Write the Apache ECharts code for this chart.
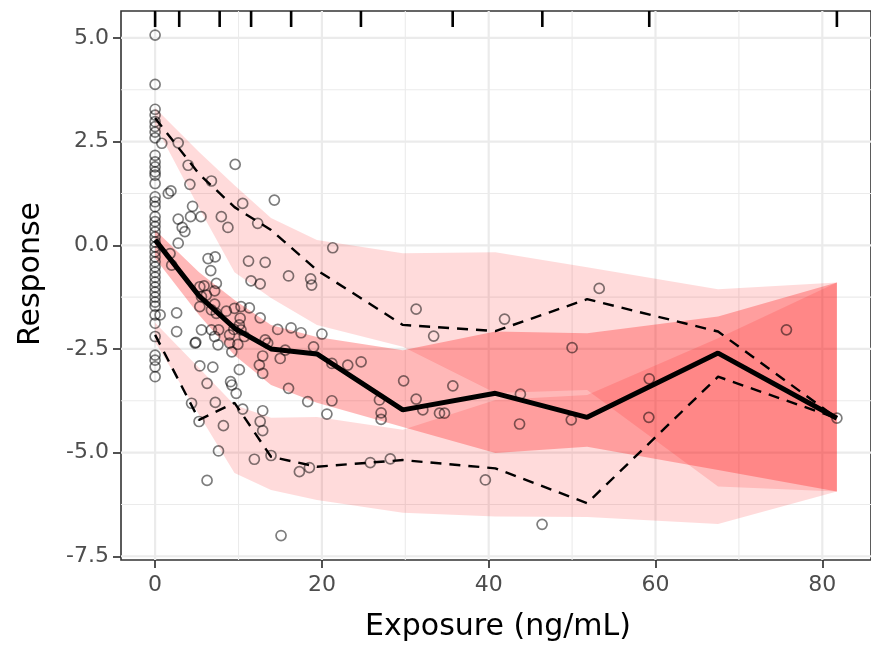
<!DOCTYPE html>
<html><head><meta charset="utf-8">
<script src="https://cdn.jsdelivr.net/npm/echarts@6/dist/echarts.min.js"></script>
<style>html,body{margin:0;padding:0;background:#fff}#c{width:871px;height:647px}</style>
</head><body><div id="c"></div>
<script>
// ---- data ----
const binX       = [0, 5.27, 9.52, 13.9, 19.4, 29.7, 40.8, 51.8, 67.5, 81.75];
const obsMedian  = [0.13, -1.22, -2.0, -2.5, -2.62, -3.97, -3.57, -4.15, -2.6, -4.17];
const obsUpper   = [3.07, 1.72, 0.92, 0.37, -0.6, -1.92, -2.07, -1.3, -2.08, -4.17];
const obsLower   = [-2.16, -4.21, -3.8, -5.1, -5.34, -5.18, -5.38, -6.22, -3.17, -4.17];
const upperPIhi  = [3.31, 2.25, 1.45, 0.66, 0.13, -0.19, -0.17, -0.53, -1.06, -0.9];
const upperPIlo  = [2.9, 0.9, -0.65, -1.27, -1.92, -2.45, -3.56, -3.49, -5.82, -5.94];
const medPIhi    = [0.37, -0.65, -1.32, -1.92, -2.21, -2.53, -2.08, -2.12, -1.72, -0.9];
const medPIlo    = [-0.31, -1.68, -2.65, -3.37, -3.8, -4.38, -5.01, -4.86, -5.42, -5.94];
const lowerPIhi  = [-1.87, -2.96, -3.85, -4.16, -4.14, -4.45, -3.73, -3.61, -2.24, -0.9];
const lowerPIlo  = [-2.33, -4.09, -5.49, -5.9, -6.14, -6.45, -6.54, -6.55, -6.72, -5.94];
const binEdges   = [0, 2.89, 7.74, 11.51, 16.31, 24.68, 35.68, 46.43, 59.25, 81.75];

// observations at zero exposure
const zeroExposureResp = [5.07, 3.88, 3.28, 3.14, 2.98, 2.86, 2.73, 2.59, 2.17, 2.01, 1.89, 1.77, 1.69, 1.49,
  1.17, 1.05, 0.93, 0.69, 0.57, 0.45, 0.32, 0.20, 0.08, -0.04, -0.16, -0.28, -0.40, -0.52, -0.65, -0.77,
  -0.89, -1.01, -1.13, -1.25, -1.37, -1.47, -1.68, -1.88, -2.20, -2.65, -2.77, -2.93, -3.17];
// observations at positive exposure
const obsX = [0.8, 2.77, 3.96, 9.6, 4.17, 6.75, 1.58, 1.9, 4.49, 10.5, 14.3, 2.77, 4.25, 5.5, 3.25, 3.57, 7.94, 8.73, 12.3,
  2.77, 1.79, 1.99, 6.35, 7.2, 6.67, 11.2, 13.2, 11.5, 12.6, 7.34, 5.36, 5.87, 7.14, 5.56, 6.15, 5.36, 7.14, 8.54, 9.52,
  10.3, 11.3, 12.6, 6.75, 7.34, 10.2, 10.1, 2.58, 0.6, 2.58, 5.56, 6.75, 7.14, 7.62, 8.93, 9.44, 10.3, 10.7, 7.54, 8.93,
  9.92, 9.2, 4.88, 4.8, 14.7, 13.2, 13.5, 12.9, 12.5, 12.9, 5.36, 6.92, 10.1, 6.23, 9.05, 9.2,
  21.3, 16.0, 18.65, 18.77, 16.3, 17.5, 20.0, 15.6, 15.0, 19.0, 16.0, 21.2, 23.1, 24.7, 29.8, 35.7, 31.3, 33.4,
  4.37, 5.27, 7.22, 8.19, 9.72, 10.5, 12.9, 12.6, 12.9, 7.6, 6.23, 11.9, 13.9, 17.3, 18.5, 15.1, 18.3, 21.2, 20.6,
  26.9, 27.1, 27.1, 31.3, 32.1, 34.1, 34.7, 25.8, 28.2,
  53.25, 41.9, 50.0, 75.7, 59.25, 43.8, 43.7, 49.9, 59.2, 81.75, 39.6, 46.4];
const obsY = [2.46, 2.47, 1.93, 1.95, 1.47, 1.55, 1.25, 1.31, 0.94, 1.01, 1.09, 0.63, 0.69, 0.69, 0.43, 0.33, 0.69, 0.43, 0.53,
  0.05, -0.2, -0.48, -0.32, -0.28, -0.61, -0.38, -0.41, -0.86, -0.93, -0.92, -1.0, -0.98, -1.1, -1.24, -1.2, -1.48, -1.42, -1.59, -1.52,
  -1.48, -1.51, -1.75, -1.56, -1.64, -1.76, -1.92, -1.63, -1.68, -2.08, -2.04, -2.04, -2.2, -2.04, -2.16, -2.03, -2.04, -2.2, -2.4, -2.36,
  -2.39, -2.57, -2.34, -2.36, -2.03, -2.28, -2.36, -2.67, -2.89, -3.09, -2.91, -2.94, -3.0, -3.33, -3.29, -3.37,
  -0.06, -0.74, -0.81, -0.96, -1.99, -2.11, -2.14, -2.53, -2.73, -2.45, -3.45, -2.85, -2.89, -2.81, -3.27, -3.39, -1.54, -2.19,
  -3.81, -4.25, -3.79, -4.35, -3.57, -3.95, -3.99, -4.25, -4.47, -4.96, -5.67, -5.16, -5.07, -5.46, -5.36, -7.0, -3.77, -3.75, -4.07,
  -3.73, -4.04, -4.2, -3.71, -3.97, -4.05, -4.05, -5.24, -5.15,
  -1.04, -1.78, -2.47, -2.04, -3.22, -3.59, -4.31, -4.21, -4.15, -4.17, -5.66, -6.73];

const xTicks = [0, 20, 40, 60, 80];
const xMinor = [10, 30, 50, 70];
const yTicks = [-7.5, -5, -2.5, 0, 2.5, 5];
const yMinor = [-6.25, -3.75, -1.25, 1.25, 3.75];

// ---- axis limits (ggplot-style 5% expansion) ----
const X_MIN = -4.09, X_MAX = 85.84, Y_MIN = -7.59, Y_MAX = 5.65;

const scatterData = zeroExposureResp.map(y => [0, y]).concat(obsX.map((x, i) => [x, obsY[i]]));
const lineData = arr => binX.map((x, i) => [x, arr[i]]);

const ribbons = [
  { hi: upperPIhi, lo: upperPIlo, fill: 'rgba(255,0,0,0.14)' },
  { hi: lowerPIhi, lo: lowerPIlo, fill: 'rgba(255,0,0,0.14)' },
  { hi: medPIhi,   lo: medPIlo,   fill: 'rgba(255,0,0,0.28)' }
];

const gridData = [];
xMinor.forEach(v => gridData.push([v, 0, 0, 0]));
yMinor.forEach(v => gridData.push([0, v, 1, 0]));
xTicks.forEach(v => gridData.push([v, 0, 0, 1]));
yTicks.forEach(v => gridData.push([0, v, 1, 1]));

const FONT = '"DejaVu Sans", Verdana, sans-serif';
const chart = echarts.init(document.getElementById('c'), null, { renderer: 'canvas' });

chart.setOption({
  animation: false,
  backgroundColor: '#ffffff',
  grid: { left: 121, top: 11, width: 755, height: 549, show: true, borderColor: '#333333', borderWidth: 1.6, backgroundColor: '#ffffff' },
  graphic: [
    { type: 'text', x: 498, y: 627, silent: true,
      style: { text: 'Exposure (ng/mL)', fontFamily: FONT, fontSize: 30, fill: '#000', align: 'center', verticalAlign: 'middle' } },
    { type: 'text', rotation: Math.PI / 2, x: 31, y: 274, silent: true,
      style: { text: 'Response', fontFamily: FONT, fontSize: 30, fill: '#000', align: 'center', verticalAlign: 'middle' } }
  ],
  xAxis: {
    type: 'value', min: X_MIN, max: X_MAX,
    axisLine: { show: false, onZero: false },
    axisTick: { show: true, customValues: xTicks, length: 8, lineStyle: { color: '#333333', width: 1.7 } },
    axisLabel: { customValues: xTicks, color: '#4D4D4D', fontFamily: FONT, fontSize: 22, margin: 14 },
    splitLine: { show: false }
  },
  yAxis: {
    type: 'value', min: Y_MIN, max: Y_MAX,
    axisLine: { show: false, onZero: false },
    axisTick: { show: true, customValues: yTicks, length: 8, lineStyle: { color: '#333333', width: 1.7 } },
    axisLabel: { customValues: yTicks, color: '#4D4D4D', fontFamily: FONT, fontSize: 22, margin: 12,
      formatter: v => Number(v).toFixed(1) },
    splitLine: { show: false }
  },
  series: [
    { // panel grid lines
      type: 'custom', silent: true, z: 1,
      data: gridData,
      renderItem: (params, api) => {
        const a = api.value(0), b = api.value(1), dir = api.value(2), major = api.value(3);
        let p1, p2;
        if (dir === 0) { p1 = api.coord([a, Y_MIN]); p2 = api.coord([a, Y_MAX]); }
        else { p1 = api.coord([X_MIN, b]); p2 = api.coord([X_MAX, b]); }
        return { type: 'line', shape: { x1: p1[0], y1: p1[1], x2: p2[0], y2: p2[1] },
          style: { stroke: '#EBEBEB', lineWidth: major ? 2.2 : 1.1 } };
      }
    },
    { // prediction-interval ribbons
      type: 'custom', silent: true, z: 2,
      data: ribbons.map((r, i) => [0, 0, i]),
      renderItem: (params, api) => {
        const r = ribbons[api.value(2)];
        const pts = binX.map((x, i) => api.coord([x, r.hi[i]]));
        for (let i = binX.length - 1; i >= 0; i--) pts.push(api.coord([binX[i], r.lo[i]]));
        return { type: 'polygon', shape: { points: pts }, style: { fill: r.fill, stroke: null } };
      }
    },
    { type: 'line', data: lineData(obsUpper), symbol: 'none', silent: true, z: 3,
      lineStyle: { color: '#000', width: 2.4, type: [11, 8] } },
    { type: 'line', data: lineData(obsLower), symbol: 'none', silent: true, z: 3,
      lineStyle: { color: '#000', width: 2.4, type: [11, 8] } },
    { type: 'line', data: lineData(obsMedian), symbol: 'none', silent: true, z: 3,
      lineStyle: { color: '#000', width: 5 } },
    { type: 'scatter', data: scatterData, symbol: 'circle', symbolSize: 10, silent: true, z: 4,
      itemStyle: { color: 'rgba(0,0,0,0)', borderColor: 'rgba(0,0,0,0.64)', borderWidth: 1.7 } },
    { // rug of bin boundaries
      type: 'custom', silent: true, z: 5,
      data: binEdges.map(x => [x, Y_MAX]),
      renderItem: (params, api) => {
        const p = api.coord([api.value(0), Y_MAX]);
        return { type: 'line', shape: { x1: p[0], y1: p[1], x2: p[0], y2: p[1] + 16 },
          style: { stroke: '#000', lineWidth: 2.6 } };
      }
    }
  ]
});
</script></body></html>
